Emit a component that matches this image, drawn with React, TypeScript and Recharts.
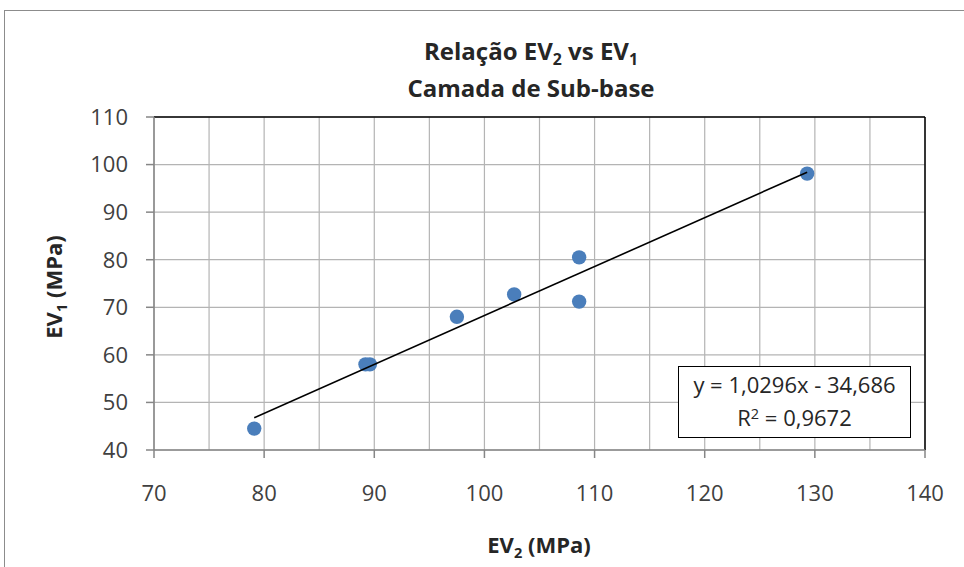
import { ScatterChart, Scatter, XAxis, YAxis, CartesianGrid, ReferenceLine } from 'recharts'

// EV2 (x) vs EV1 (y)
const ev2 = [79.1, 89.2, 89.6, 97.5, 102.7, 108.6, 108.6, 129.3]
const ev1 = [44.5, 58.0, 58.0, 68.0, 72.7, 80.5, 71.2, 98.1]

// linear trendline end points (Excel draws it over the data range)
const trendX = [79.1, 129.3]
const trendY = [46.8, 98.4]

const xTicks = [70, 80, 90, 100, 110, 120, 130, 140]
const xMinorTicks = [70, 75, 80, 85, 90, 95, 100, 105, 110, 115, 120, 125, 130, 135, 140]
const yTicks = [40, 50, 60, 70, 80, 90, 100, 110]

const equation = 'y = 1,0296x - 34,686'
const rSquared = '0,9672'

const points = ev2.map((x, i) => ({ x, y: ev1[i] }))
const trend = trendX.map((x, i) => ({ x, y: trendY[i] }))

const font = '"Open Sans", sans-serif'
const axisGray = '#868686'
const gridGray = '#b4b4b4'

const Dot = (p: any) => <circle cx={p.cx} cy={p.cy} r={7.2} fill="#4a7ebb" />
const NoDot = () => <g />

// vertical gridlines every 5 units, placed with the x axis scale
const minorGrid = ({ xAxis }: any) => {
  const s = xAxis && xAxis.scale
  if (!s) return []
  const f = typeof s === 'function' ? s : s.map
  return xMinorTicks.map((t) => f(t))
}

const Sub = ({ children }: { children: any }) => (
  <span style={{ fontSize: '0.66em', position: 'relative', top: '0.32em' }}>{children}</span>
)

export default function App() {
  return (
    <div style={{ position: 'absolute', left: 0, top: 0, width: 964, height: 567, overflow: 'hidden', background: '#fff', fontFamily: font }}>
      <div style={{ position: 'absolute', left: 4, top: 10, width: 1100, height: 700, border: '1px solid #8c8c8c' }} />

      <ScatterChart width={964} height={567} margin={{ top: 117, right: 39, bottom: 57, left: 74 }} style={{ position: 'absolute', left: 0, top: 0 }}>
        <CartesianGrid stroke={gridGray} strokeWidth={1.2} verticalCoordinatesGenerator={minorGrid} />
        <XAxis
          type="number"
          dataKey="x"
          domain={[70, 140]}
          ticks={xTicks}
          height={60}
          tickSize={8}
          tickMargin={27}
          axisLine={{ stroke: axisGray, strokeWidth: 1.5 }}
          tickLine={{ stroke: axisGray, strokeWidth: 1.5 }}
          tick={{ fill: '#404040', fontSize: 22, fontFamily: font }}
        />
        <YAxis
          type="number"
          dataKey="y"
          domain={[40, 110]}
          ticks={yTicks}
          width={80}
          tickSize={8}
          tickMargin={18}
          axisLine={{ stroke: axisGray, strokeWidth: 1.5 }}
          tickLine={{ stroke: axisGray, strokeWidth: 1.5 }}
          tick={{ fill: '#404040', fontSize: 22, fontFamily: font }}
        />
        <ReferenceLine y={110} stroke="#000" strokeWidth={1.5} />
        <ReferenceLine x={140} stroke="#000" strokeWidth={1.5} />
        <Scatter data={points} shape={Dot} isAnimationActive={false} />
        <Scatter data={trend} shape={NoDot} line={{ stroke: '#000', strokeWidth: 1.6 }} isAnimationActive={false} />
      </ScatterChart>

      <div style={{ position: 'absolute', left: 0, width: 1062, top: 38.5, textAlign: 'center', fontSize: 24, lineHeight: '24px', fontWeight: 700, color: '#262626', whiteSpace: 'nowrap' }}>
        Relação EV<Sub>2</Sub> vs EV<Sub>1</Sub>
      </div>
      <div style={{ position: 'absolute', left: 0, width: 1062, top: 75.5, textAlign: 'center', fontSize: 24, lineHeight: '24px', fontWeight: 700, color: '#262626', whiteSpace: 'nowrap' }}>
        Camada de Sub-base
      </div>

      <div style={{ position: 'absolute', left: 0, width: 1078, top: 533, textAlign: 'center', fontSize: 22, lineHeight: '22px', fontWeight: 700, color: '#262626', whiteSpace: 'nowrap' }}>
        EV<Sub>2</Sub> (MPa)
      </div>
      <div style={{ position: 'absolute', left: 54, top: 287, transform: 'translate(-50%, -50%) rotate(-90deg)', fontSize: 22, lineHeight: '22px', fontWeight: 700, color: '#262626', whiteSpace: 'nowrap' }}>
        EV<Sub>1</Sub> (MPa)
      </div>

      <div style={{ position: 'absolute', left: 678, top: 366, width: 231, height: 69, border: '1.5px solid #000', background: '#fff', textAlign: 'center', fontSize: 22, lineHeight: '33px', color: '#262626', whiteSpace: 'nowrap', paddingTop: 1 }}>
        <div>{equation}</div>
        <div>
          R<span style={{ fontSize: '0.66em', position: 'relative', top: '-0.5em' }}>2</span> = {rSquared}
        </div>
      </div>
    </div>
  )
}
